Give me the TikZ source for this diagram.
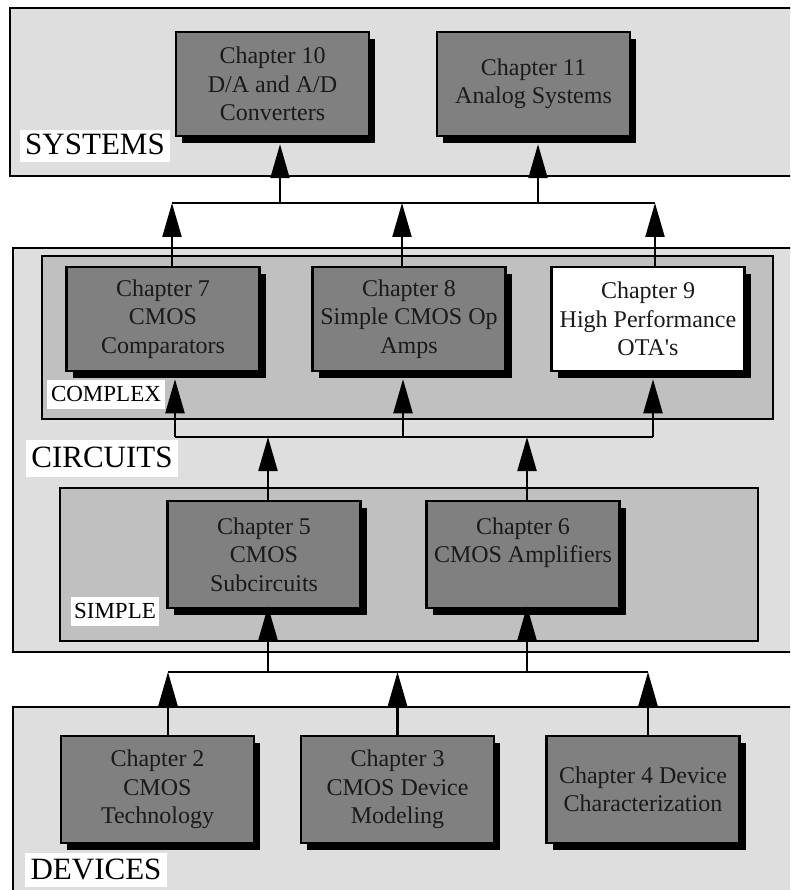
\documentclass[tikz,border=0pt]{standalone}
\usepackage{fontspec}
\setmainfont{Liberation Serif}
\usetikzlibrary{arrows.meta,shadows}
\definecolor{outerfill}{HTML}{DEDEDE}
\definecolor{innerfill}{HTML}{C0C0C0}
\definecolor{chapfill}{HTML}{808080}
\definecolor{ink}{HTML}{1A1A1A}
\begin{document}
\begin{tikzpicture}[x=1pt,y=-1pt,
  outer/.style={draw=black, line width=2.5pt, fill=outerfill, inner sep=0pt},
  inner/.style={draw=black, line width=2.5pt, fill=innerfill, inner sep=0pt},
  chap/.style={draw=black, line width=2.5pt, fill=chapfill, text=ink,
    minimum width=193pt, minimum height=104pt, inner sep=0pt, align=center,
    font=\fontsize{24}{28.5}\selectfont,
    general shadow={shadow xshift=6pt, shadow yshift=-7pt, fill=black}},
  bigtag/.style={fill=white, inner sep=0pt, text=black,
    font=\fontsize{31}{31}\selectfont, text height=21pt, text depth=3pt},
  smalltag/.style={fill=white, inner sep=0pt, text=black,
    font=\fontsize{23}{23}\selectfont, text height=15.5pt, text depth=2pt},
  wire/.style={draw=black, line width=2.2pt},
  arr/.style={wire, -{Triangle[length=34pt,width=19pt]}}]

\useasboundingbox (0,0) rectangle (790,890);
\clip (0,0) rectangle (790,890);

% level containers
\node[outer, minimum width=790pt, minimum height=168pt] (sys) at (405,92) {};
\node[outer, minimum width=787pt, minimum height=404pt] (cir) at (406.5,450) {};
\node[inner, minimum width=731pt, minimum height=163pt] (cplx) at (407.5,337.5) {};
\node[inner, minimum width=698pt, minimum height=153pt] (smpl) at (409,564.5) {};
\node[outer, minimum width=787pt, minimum height=193pt] (dev) at (406.5,803.5) {};

% tags
\node[bigtag, minimum width=150pt, minimum height=32pt] (systag) at (95,146) {SYSTEMS};
\node[bigtag, minimum width=152pt, minimum height=37pt] (cirtag) at (102,458.5) {CIRCUITS};
\node[smalltag, minimum width=118pt, minimum height=29pt] (cplxtag) at (106,394.5) {COMPLEX};
\node[smalltag, minimum width=88pt, minimum height=29pt] (smpltag) at (115,611.5) {SIMPLE};
\node[bigtag, minimum width=142pt, minimum height=34pt] (devtag) at (96,870) {DEVICES};

% chapters
\node[chap] (ch10) at (272.5,84) {Chapter 10\\D/A and A/D\\Converters};
\node[chap] (ch11) at (533.5,84) {Chapter 11\\Analog Systems};
\node[chap] (ch7) at (163,319) {Chapter 7\\CMOS\\Comparators};
\node[chap] (ch8) at (409,319) {Chapter 8\\Simple CMOS Op\\Amps};
\node[chap, fill=white] (ch9) at (648,319) {Chapter 9\\High Performance\\OTA\textquotesingle s};
\node[chap, minimum height=107pt] (ch5) at (264,554.5) {Chapter 5\\CMOS\\Subcircuits};
\node[chap, minimum height=107pt] (ch6) at (523,554.5) {Chapter 6\\CMOS Amplifiers\\\mbox{}};
\node[chap, minimum height=107pt] (ch2) at (157.5,789.5) {Chapter 2\\CMOS\\Technology};
\node[chap, minimum height=107pt] (ch3) at (397.5,789.5) {Chapter 3\\CMOS Device\\Modeling};
\node[chap, minimum height=107pt] (ch4) at (643,789.5) {Chapter 4 Device\\Characterization};

% buses
\coordinate (busA) at (0,203);
\coordinate (busB) at (0,437);
\coordinate (busC) at (0,672);

% complex circuits -> systems
\draw[arr] ([xshift=9pt]ch7.north) -- ([xshift=9pt]ch7.north |- busA);
\draw[arr] ([xshift=-7pt]ch8.north) -- ([xshift=-7pt]ch8.north |- busA);
\draw[arr] ([xshift=7pt]ch9.north) -- ([xshift=7pt]ch9.north |- busA);
\draw[wire] ([xshift=9pt]ch7.north |- busA) -- ([xshift=7pt]ch9.north |- busA);
\draw[arr] ([xshift=7.5pt]ch10.south |- busA) -- ([xshift=7.5pt,yshift=-7pt]ch10.south);
\draw[arr] ([xshift=4.5pt]ch11.south |- busA) -- ([xshift=4.5pt,yshift=-7pt]ch11.south);

% simple circuits -> complex circuits
\draw[arr] ([xshift=4pt]ch5.north) -- ([xshift=4pt]ch5.north |- busB);
\draw[arr] ([xshift=4pt]ch6.north) -- ([xshift=4pt]ch6.north |- busB);
\draw[wire] ([xshift=12pt]ch7.south |- busB) -- ([xshift=5pt]ch9.south |- busB);
\draw[arr] ([xshift=12pt]ch7.south |- busB) -- ([xshift=12pt,yshift=-7pt]ch7.south);
\draw[arr] ([xshift=-6pt]ch8.south |- busB) -- ([xshift=-6pt,yshift=-7pt]ch8.south);
\draw[arr] ([xshift=5pt]ch9.south |- busB) -- ([xshift=5pt,yshift=-7pt]ch9.south);

% devices -> simple circuits
\draw[arr] ([xshift=10.5pt]ch2.north) -- ([xshift=10.5pt]ch2.north |- busC);
\draw[arr] (ch3.north) -- (ch3.north |- busC);
\draw[arr] ([xshift=5pt]ch4.north) -- ([xshift=5pt]ch4.north |- busC);
\draw[wire] ([xshift=10.5pt]ch2.north |- busC) -- ([xshift=5pt]ch4.north |- busC);
\draw[arr] ([xshift=4pt]ch5.south |- busC) -- ([xshift=4pt,yshift=3pt]ch5.south);
\draw[arr] ([xshift=4pt]ch6.south |- busC) -- ([xshift=4pt,yshift=3pt]ch6.south);
\end{tikzpicture}
\end{document}
